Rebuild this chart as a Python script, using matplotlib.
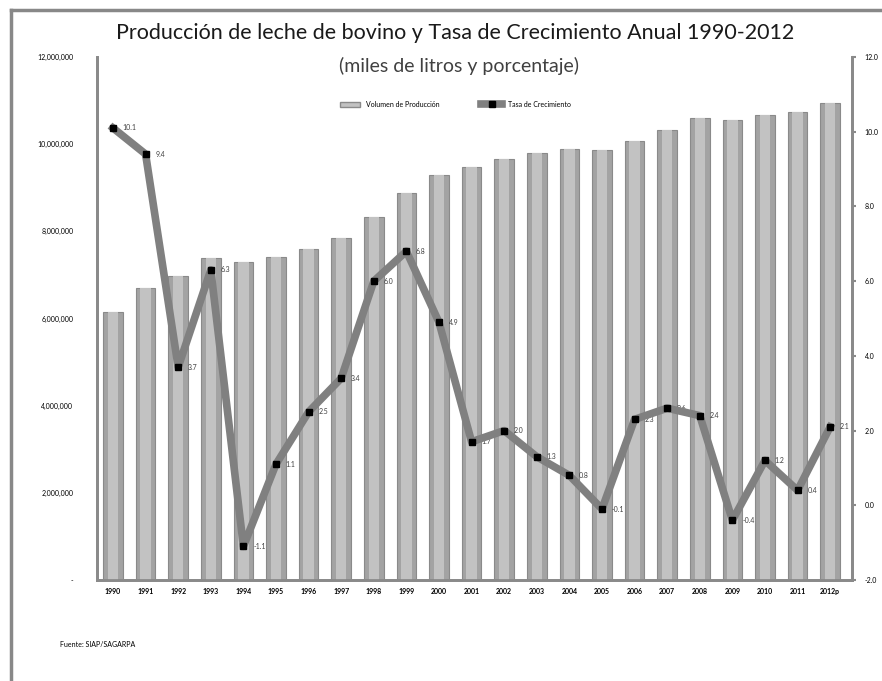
import matplotlib
matplotlib.use("Agg")
import matplotlib.pyplot as plt
from matplotlib.lines import Line2D
from matplotlib.patches import Patch
from matplotlib.ticker import FuncFormatter

# --------------------------------------------------
# DATA
# --------------------------------------------------
years = ["1990", "1991", "1992", "1993", "1994", "1995", "1996", "1997",
         "1998", "1999", "2000", "2001", "2002", "2003", "2004", "2005",
         "2006", "2007", "2008", "2009", "2010", "2011", "2012p"]

produccion = [6150000, 6700000, 6970000, 7390000, 7300000, 7400000,
              7590000, 7840000, 8320000, 8890000, 9300000, 9470000,
              9670000, 9790000, 9880000, 9870000, 10080000, 10330000,
              10600000, 10560000, 10670000, 10730000, 10950000]

tasa = [10.1, 9.4, 3.7, 6.3, -1.1, 1.1, 2.5, 3.4, 6.0, 6.8, 4.9, 1.7,
        2.0, 1.3, 0.8, -0.1, 2.3, 2.6, 2.4, -0.4, 1.2, 0.4, 2.1]

x = list(range(len(years)))

plt.rcParams["font.family"] = ["Lato", "DejaVu Sans"]

# --------------------------------------------------
# FIGURE
# --------------------------------------------------
fig = plt.figure(figsize=(8.82, 6.81), dpi=100)
ax = fig.add_axes([0.110, 0.1483, 0.856, 0.768])
ax2 = ax.twinx()

# bars (two layers to fake the cylinder shading)
ax.bar(x, produccion, width=0.6, color="#a3a3a3", edgecolor="#8a8a8a",
       linewidth=0.8, zorder=2)
ax.bar(x, produccion, width=0.32, color="#c2c2c2", linewidth=0, zorder=3)

ax.set_ylim(0, 12000000)
ax.set_yticks(range(0, 12000001, 2000000))
ax.yaxis.set_major_formatter(
    FuncFormatter(lambda v, p: "-" if v == 0 else f"{int(v):,}"))
ax.tick_params(axis="y", length=0, pad=17, labelsize=5)
ax.set_xlim(-0.49, 22.67)
ax.set_xticks(x)
ax.set_xticklabels(years, fontsize=5, fontweight="bold")
ax.tick_params(axis="x", length=0, pad=6)

# growth line
ax2.plot(x, tasa, color="#808080", linewidth=5.5, marker="s",
         markersize=4, markerfacecolor="black", markeredgecolor="black",
         zorder=5)
for xi, t in zip(x, tasa):
    ax2.annotate(f"{t:.1f}", (xi, t), xytext=(7, 0),
                 textcoords="offset points", fontsize=5, color="#404040",
                 va="center")

ax2.set_ylim(-2, 12)
ax2.set_yticks(range(-2, 13, 2))
ax2.yaxis.set_major_formatter(FuncFormatter(lambda v, p: f"{v:.1f}"))
ax2.tick_params(axis="y", length=3, width=1.5, color="#8a8a8a",
                labelsize=5, pad=6)

for a in (ax, ax2):
    a.spines["top"].set_visible(False)
    for s in ("left", "right", "bottom"):
        a.spines[s].set_color("#8a8a8a")
        a.spines[s].set_linewidth(2)

# titles
fig.text(0.516, 0.951, "Producción de leche de bovino y Tasa de Crecimiento Anual 1990-2012",
         ha="center", va="center", fontsize=15.5, color="#1a1a1a")
fig.text(0.52, 0.903, "(miles de litros y porcentaje)",
         ha="center", va="center", fontsize=14, color="#404040")

# legend
handles = [
    Patch(facecolor="#c2c2c2", edgecolor="#8a8a8a", label="Volumen de Producción"),
    Line2D([0], [0], color="#808080", linewidth=5.5, marker="s",
           markersize=4, markerfacecolor="black", markeredgecolor="black",
           label="Tasa de Crecimiento"),
]
fig.legend(handles=handles, loc="center", bbox_to_anchor=(0.516, 0.847),
           ncol=2, frameon=False, fontsize=5, columnspacing=6,
           handlelength=3)

# source
fig.text(0.068, 0.053, "Fuente: SIAP/SAGARPA", fontsize=5, va="center")

# outer frame (top and left edges)
fig.add_artist(Line2D([0.012, 1.0], [0.985, 0.985], color="#888888",
                      linewidth=2.5, transform=fig.transFigure))
fig.add_artist(Line2D([0.012, 0.012], [0.0, 0.985], color="#888888",
                      linewidth=2.5, transform=fig.transFigure))

fig.savefig("out.png", dpi=100)
